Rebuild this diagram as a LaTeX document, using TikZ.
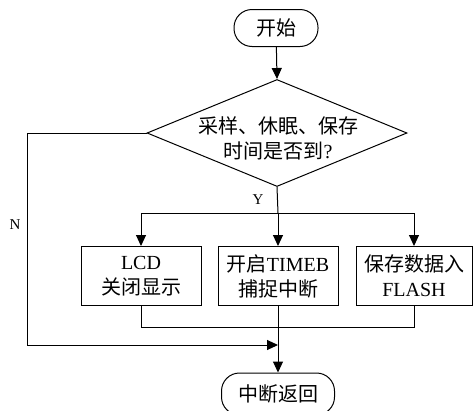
\documentclass[tikz,border=0pt]{standalone}
\usepackage{fontspec}
\setmainfont{Liberation Serif}
\newfontfamily\cjk{Noto Sans CJK SC}
\usetikzlibrary{shapes.geometric,arrows.meta}
\begin{document}
\begin{tikzpicture}[x=1pt,y=-1pt,line width=1pt,
  txt/.style={font=\fontsize{20}{25}\selectfont, align=center, inner sep=0pt},
  term/.style={draw, rounded corners=18pt, minimum height=37pt, txt},
  procbox/.style={draw, minimum height=59pt, txt},
  arr/.style={-{Triangle[length=11pt,width=10pt]}},
  lbl/.style={font=\fontsize{15}{18}\selectfont, inner sep=0pt}]
\useasboundingbox (0,0) rectangle (473,410);
\node[term, minimum width=84pt] (start) at (276,28) {\cjk 开始};
\node[draw, diamond, minimum width=260pt, minimum height=107pt, inner sep=0pt] (dia) at (277,133) {};
\node[txt] (diatext) at (278,138) {{\cjk 采样、休眠、保存}\\{\cjk 时间是否到}?};
\node[procbox, minimum width=120pt] (b1) at (141,276) {LCD\\{\cjk 关闭显示}};
\node[procbox, minimum width=120pt] (b2) at (278,276) {{\cjk 开启}TIMEB\\{\cjk 捕捉中断}};
\node[procbox, minimum width=116pt] (b3) at (414,276) {{\cjk 保存数据入}\\FLASH};
\node[term, minimum width=113pt, minimum height=42pt] (end) at (278,394) {\cjk 中断返回};
\coordinate (yj) at (278,213);
\coordinate (mj) at (141,327);
\coordinate (nc) at (27,133);
\coordinate (nb) at (27,345);
\coordinate (nj) at (278,345);
\node[lbl] (ylab) at (258,200) {Y};
\node[lbl] (nlab) at (15,225) {N};
\draw[arr] (start) -- (dia.north);
\draw (dia.south) -- (yj);
\draw[arr] (yj) -- (b2.north);
\draw[arr] (yj) -| (b1.north);
\draw[arr] (yj) -| (b3.north);
\draw (b1.south) -- (mj) -| (b3.south);
\draw (dia.west) -- (nc) -- (nb);
\draw[arr] (nb) -- (nj);
\draw[arr] (b2.south) -- (end.north);
\end{tikzpicture}
\end{document}
